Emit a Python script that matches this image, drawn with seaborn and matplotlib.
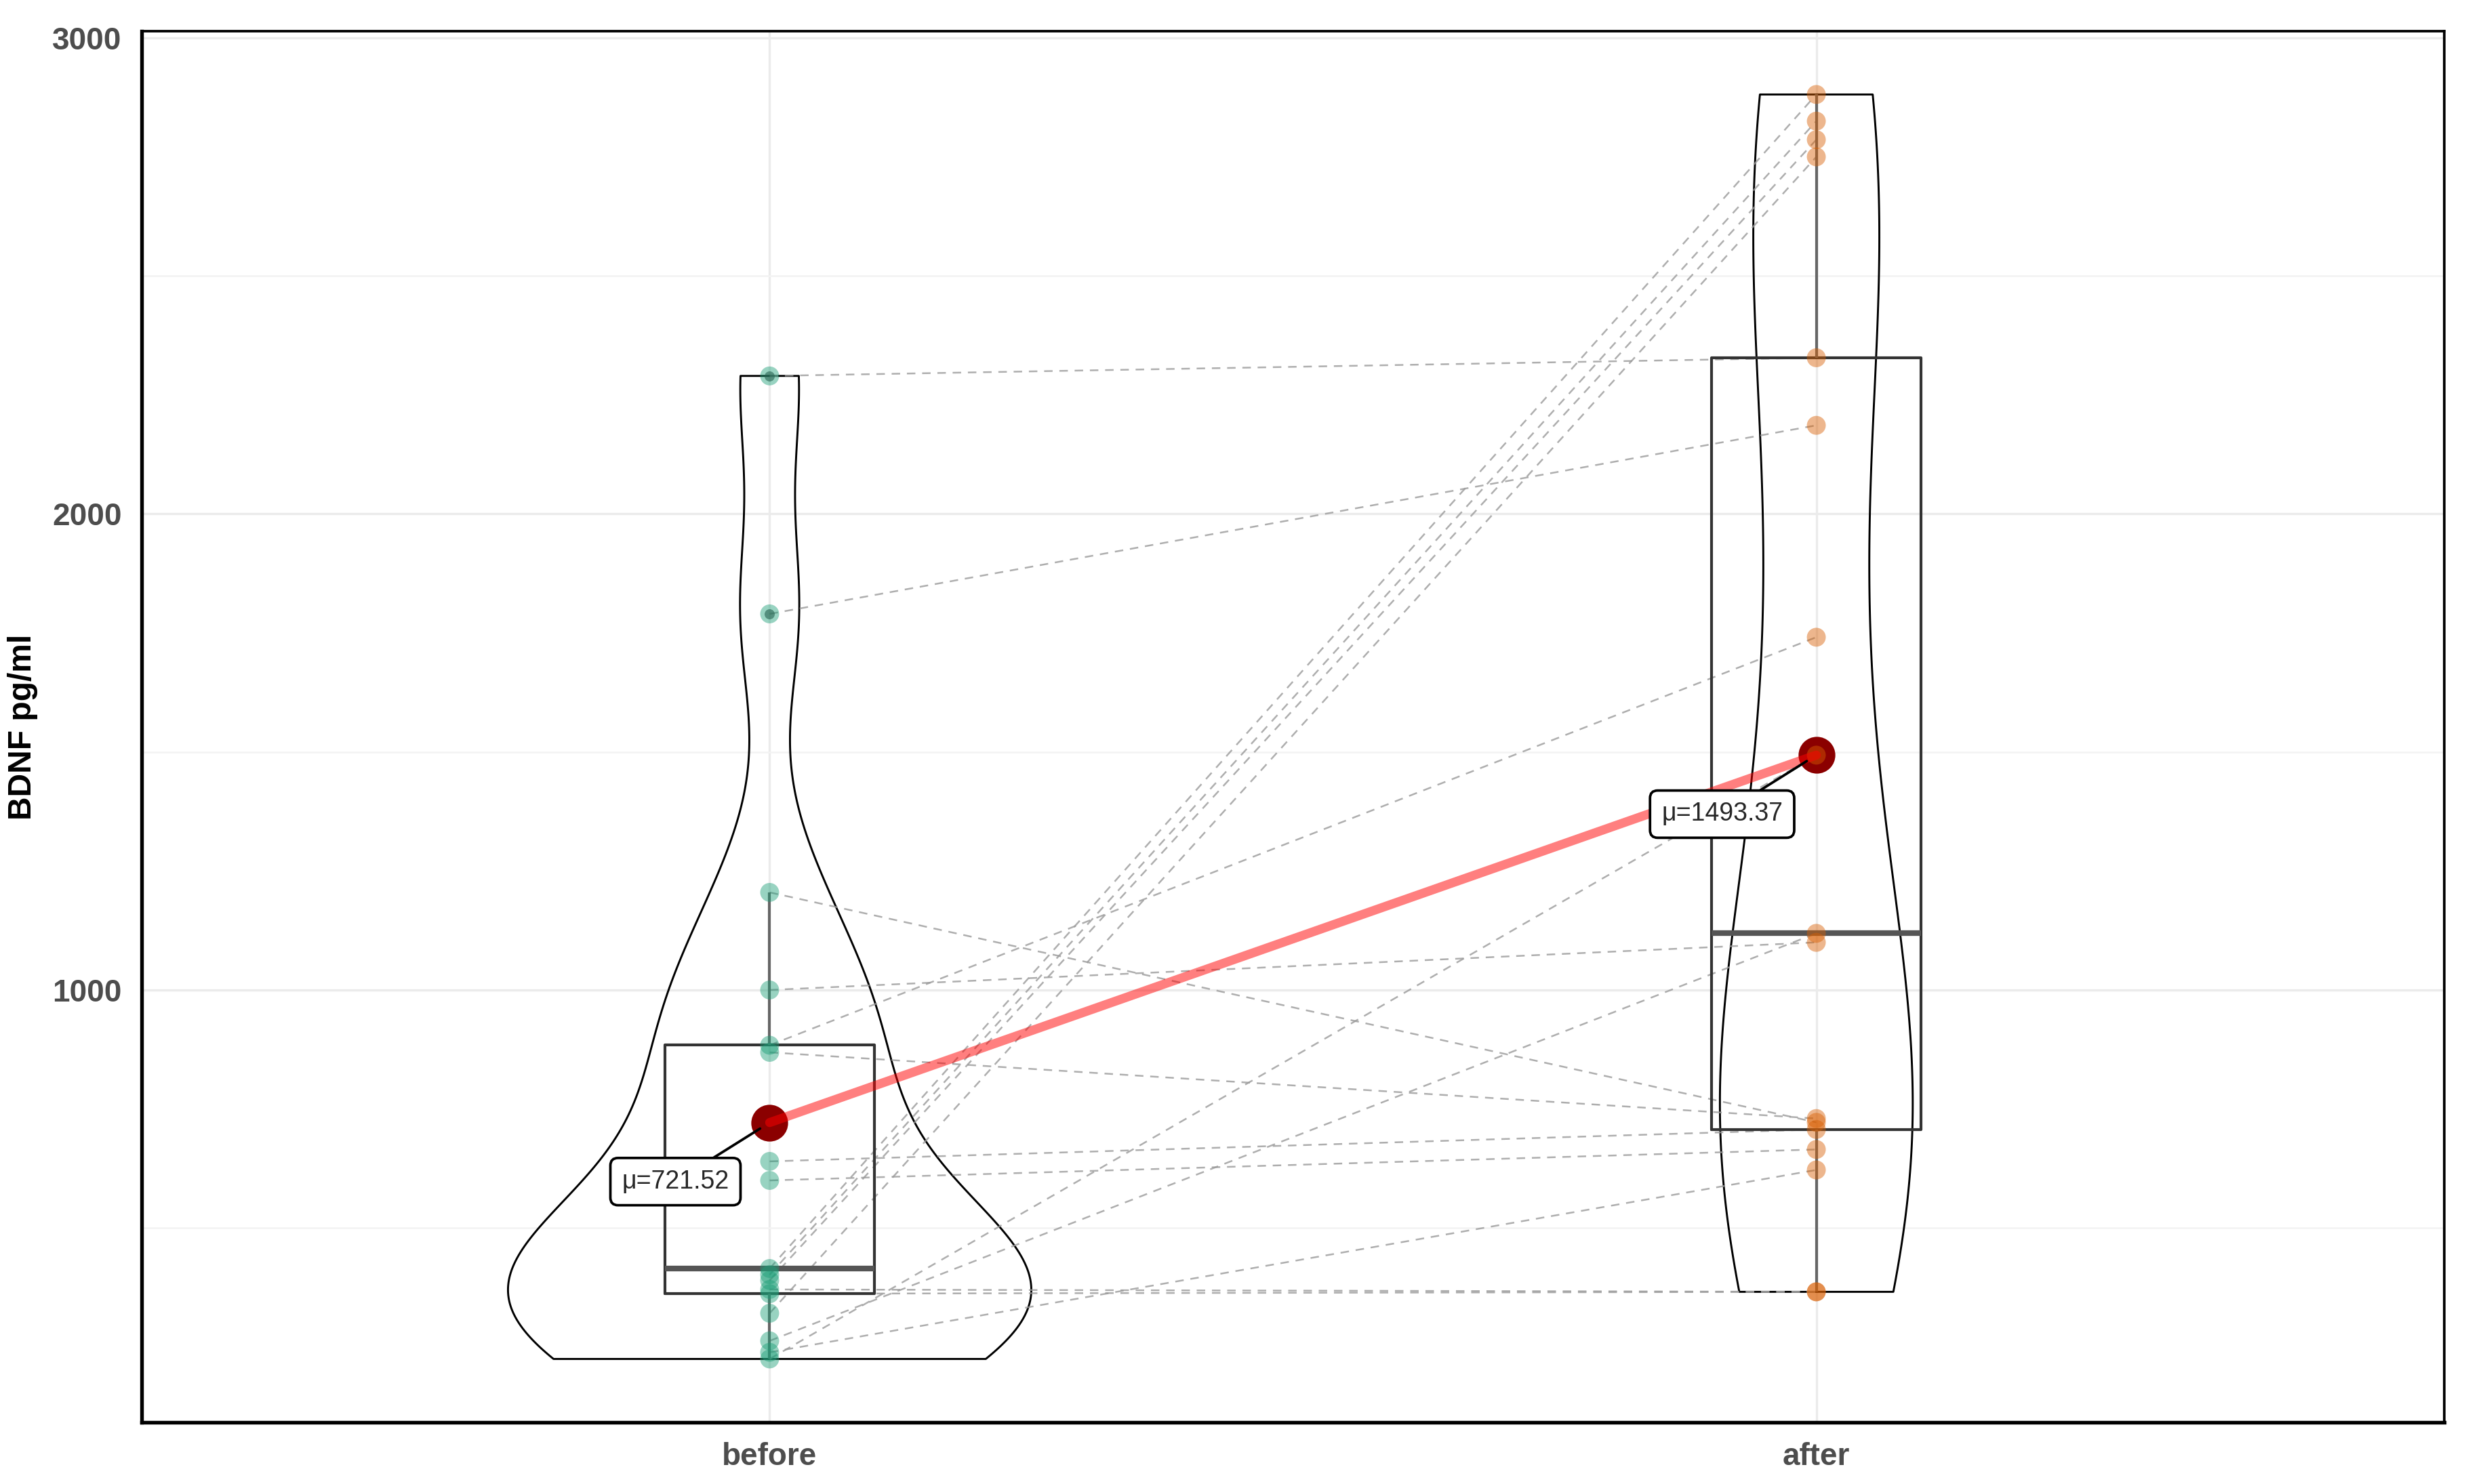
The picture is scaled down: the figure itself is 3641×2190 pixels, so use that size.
import numpy as np
import pandas as pd
import matplotlib.pyplot as plt
import seaborn as sns

# BDNF (pg/ml) per subject, same subject order in both lists
subjects = list(range(1, 18))
before = [2289.84, 1790, 1205, 1000, 884, 869, 640, 600, 415, 402, 390, 371, 362, 321, 263, 239, 225]
after = [2328, 2186, 722, 1100, 1741, 730, 707, 665, 2881, 2825, 2786, 366, 366, 2750, 1119, 622, 1493.29]
conditions = ['before', 'after']
colors = ['#1B9E77', '#D95F02']
yticks = [1000, 2000, 3000]
yticks_minor = [500, 1500, 2500]

df = pd.DataFrame({'id': subjects * 2,
                   'condition': ['before'] * len(before) + ['after'] * len(after),
                   'value': before + after})


def nrd0(kde):
    # R's bw.nrd0 expressed as a factor of the sample sd (what gaussian_kde expects)
    x = kde.dataset[0]
    sd = x.std(ddof=1)
    iqr = np.subtract(*np.percentile(x, [75, 25]))
    return 0.9 * min(sd, iqr / 1.34) * len(x) ** -0.2 / sd


sns.set_style('whitegrid')
plt.rcParams['font.family'] = ['Liberation Sans', 'DejaVu Sans']

fig = plt.figure(figsize=(3641 / 300, 2190 / 300), dpi=300)
ax = fig.add_axes([0.0574, 0.0416, 0.9330, 0.9374])

sns.violinplot(data=df, x='condition', y='value', order=conditions, fill=False, color='black',
               inner=None, cut=0, width=0.5, bw_method=nrd0, gridsize=512, linewidth=0.7, ax=ax)

# paired observations
sns.lineplot(data=df, x='condition', y='value', units='id', estimator=None, color='#9A9A9A',
             lw=0.6, linestyle=(0, (5, 4)), alpha=0.8, ax=ax, zorder=1)

sns.boxplot(data=df, x='condition', y='value', order=conditions, fill=False, width=0.2,
            color='#333333', linewidth=1.0, showcaps=False,
            whiskerprops=dict(color='#666666'),
            medianprops=dict(color='#555555', linewidth=2.0),
            flierprops=dict(marker='o', markersize=3.6, markerfacecolor='#333333',
                            markeredgecolor='none', alpha=0.6),
            ax=ax)

sns.stripplot(data=df, x='condition', y='value', order=conditions, hue='condition',
              hue_order=conditions, palette=colors, jitter=False, size=6.7, alpha=0.45,
              legend=False, ax=ax, zorder=3)

# means
sns.pointplot(data=df, x='condition', y='value', order=conditions, estimator='mean',
              errorbar=None, color='#8B0000', linestyle='none', markersize=11, ax=ax)
sns.lineplot(data=df, x='condition', y='value', estimator='mean', errorbar=None,
             color='red', alpha=0.5, lw=3.2, ax=ax, zorder=6)

means = df.groupby('condition')['value'].mean()
for i, c in enumerate(conditions):
    ax.annotate(f'μ={means[c]:.2f}', xy=(i, means[c]), xytext=(i - 0.09, means[c] - 124),
                ha='center', va='center', fontsize=9, zorder=8,
                bbox=dict(boxstyle='round,pad=0.45,rounding_size=0.3', fc='white', ec='black', lw=0.9),
                arrowprops=dict(arrowstyle='-', color='black', lw=0.9, shrinkA=0, shrinkB=4))

ax.set_xlim(-0.6, 1.6)
ax.set_ylim(92, 3014)
ax.set_xticks([0, 1])
ax.set_xticklabels(conditions, fontweight='bold')
ax.set_yticks(yticks)
ax.set_yticklabels([str(t) for t in yticks], fontweight='bold')
ax.set_yticks(yticks_minor, minor=True)
ax.tick_params(axis='both', which='major', length=4, width=0.8, color='#333333',
               labelsize=11, labelcolor='#4D4D4D', pad=3)
ax.tick_params(which='minor', length=0)
ax.grid(which='major', color='#EBEBEB', lw=0.8)
ax.grid(which='minor', axis='y', color='#F3F3F3', lw=0.6)
ax.set_axisbelow(True)

ax.set_xlabel('')
ax.set_ylabel('BDNF pg/ml', fontweight='bold', fontsize=11.5, color='black', labelpad=5)

for side in ['left', 'bottom']:
    ax.spines[side].set_linewidth(1.3)
for side in ['top', 'right']:
    ax.spines[side].set_linewidth(0.9)
for s in ax.spines.values():
    s.set_color('black')
    s.set_visible(True)

plt.savefig('out.png', dpi=300)
plt.close()
